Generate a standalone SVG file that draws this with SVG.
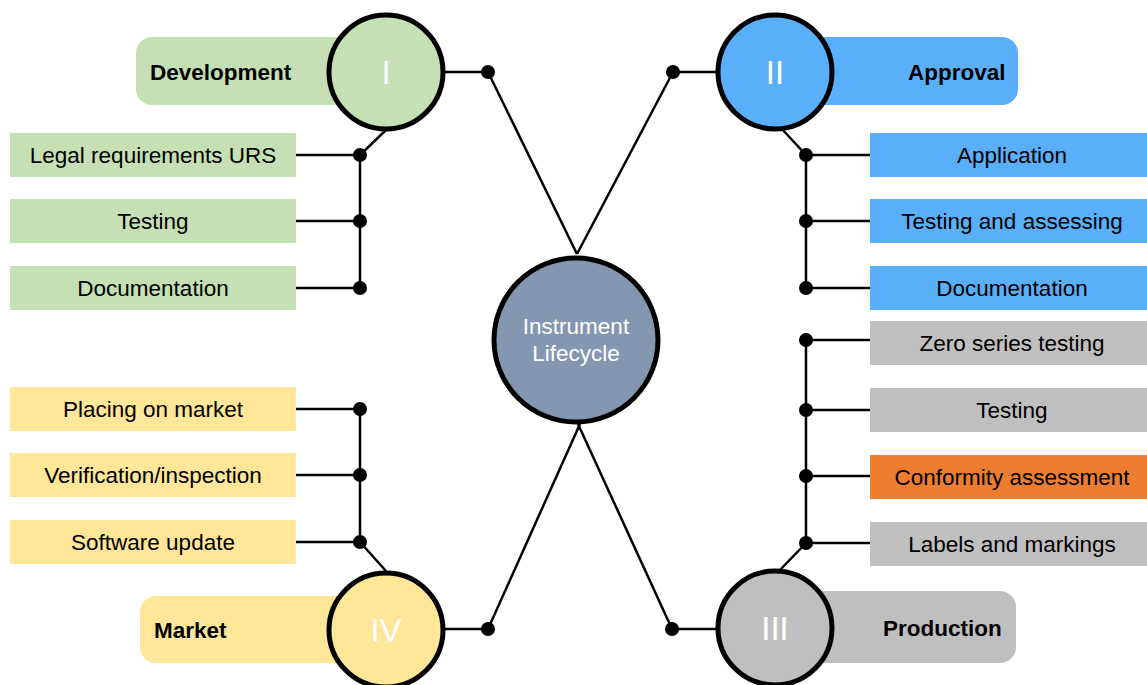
<svg xmlns="http://www.w3.org/2000/svg" width="1147" height="685" viewBox="0 0 1147 685">
  <defs>
    <style>
      .txt { font-family: "Liberation Sans", Arial, sans-serif; font-size: 22.5px; fill: #000; text-anchor: middle; dominant-baseline: central; }
      .bold { font-weight: bold; text-anchor: start; }
      .light { fill: #fff; }
      .num { font-family: "Liberation Sans", Arial, sans-serif; font-size: 33px; fill: #fff; text-anchor: middle; dominant-baseline: central; }
      .ring { stroke: #000; stroke-width: 5; }
      .wire { stroke: #000; stroke-width: 2.5; fill: none; }
      .dot { fill: #000; }
      .green { fill: #c5e0b4; }
      .blue { fill: #5aaffa; }
      .yellow { fill: #ffe699; }
      .grey { fill: #bfbfbf; }
      .orange { fill: #ed7d31; }
    </style>
  </defs>
  <rect width="1147" height="685" fill="#fff"/>

  <!-- connectors -->
  <g id="connectors">
    <!-- crossing lines to the hub -->
    <line class="wire" x1="444" y1="72" x2="488" y2="72"/>
    <line class="wire" x1="488" y1="72" x2="577" y2="254"/>
    <line class="wire" x1="717" y1="72" x2="673" y2="72"/>
    <line class="wire" x1="673" y1="72" x2="577" y2="254"/>
    <line class="wire" x1="444" y1="629" x2="488" y2="629"/>
    <line class="wire" x1="488" y1="629" x2="580" y2="424"/>
    <line class="wire" x1="717" y1="629" x2="672" y2="629"/>
    <line class="wire" x1="672" y1="629" x2="578" y2="424"/>
    <!-- development branches -->
    <polyline class="wire" points="386,130 360,155 360,288"/>
    <line class="wire" x1="296" y1="155" x2="360" y2="155"/>
    <line class="wire" x1="296" y1="221" x2="360" y2="221"/>
    <line class="wire" x1="296" y1="288" x2="360" y2="288"/>
    <!-- market branches -->
    <polyline class="wire" points="360,409 360,542 386,571"/>
    <line class="wire" x1="296" y1="409" x2="360" y2="409"/>
    <line class="wire" x1="296" y1="475" x2="360" y2="475"/>
    <line class="wire" x1="296" y1="542" x2="360" y2="542"/>
    <!-- approval branches -->
    <polyline class="wire" points="781,128 806,155 806,288"/>
    <line class="wire" x1="806" y1="155" x2="870" y2="155"/>
    <line class="wire" x1="806" y1="221" x2="870" y2="221"/>
    <line class="wire" x1="806" y1="288" x2="870" y2="288"/>
    <!-- production branches -->
    <polyline class="wire" points="806,340 806,543 779,571"/>
    <line class="wire" x1="806" y1="340" x2="870" y2="340"/>
    <line class="wire" x1="806" y1="410" x2="870" y2="410"/>
    <line class="wire" x1="806" y1="476" x2="870" y2="476"/>
    <line class="wire" x1="806" y1="543" x2="870" y2="543"/>
    <!-- junction dots -->
    <circle class="dot" cx="488" cy="72" r="7"/>
    <circle class="dot" cx="673" cy="72" r="7"/>
    <circle class="dot" cx="488" cy="629" r="7"/>
    <circle class="dot" cx="672" cy="629" r="7"/>
    <circle class="dot" cx="360" cy="155" r="7"/>
    <circle class="dot" cx="360" cy="221" r="7"/>
    <circle class="dot" cx="360" cy="288" r="7"/>
    <circle class="dot" cx="360" cy="409" r="7"/>
    <circle class="dot" cx="360" cy="475" r="7"/>
    <circle class="dot" cx="360" cy="542" r="7"/>
    <circle class="dot" cx="806" cy="155" r="7"/>
    <circle class="dot" cx="806" cy="221" r="7"/>
    <circle class="dot" cx="806" cy="288" r="7"/>
    <circle class="dot" cx="806" cy="340" r="7"/>
    <circle class="dot" cx="806" cy="410" r="7"/>
    <circle class="dot" cx="806" cy="476" r="7"/>
    <circle class="dot" cx="806" cy="543" r="7"/>
  </g>

  <!-- hub -->
  <g id="hub">
    <circle cx="576" cy="340" r="82" fill="#8497b0" class="ring"/>
    <text class="txt light" x="576" y="326">Instrument</text>
    <text class="txt light" x="576" y="353">Lifecycle</text>
  </g>

  <!-- phase I -->
  <g id="phase-development">
    <rect class="green" x="136" y="37" width="230" height="68" rx="16"/>
    <circle class="green ring" cx="386" cy="72" r="57"/>
    <text class="txt bold" x="150" y="72">Development</text>
    <text class="num" x="386" y="72">I</text>
  </g>
  <g id="dev-urs"><rect class="green" x="10" y="133" width="286" height="44"/><text class="txt" x="153" y="155">Legal requirements URS</text></g>
  <g id="dev-testing"><rect class="green" x="10" y="199" width="286" height="44"/><text class="txt" x="153" y="221">Testing</text></g>
  <g id="dev-doc"><rect class="green" x="10" y="266" width="286" height="44"/><text class="txt" x="153" y="288">Documentation</text></g>

  <!-- phase II -->
  <g id="phase-approval">
    <rect class="blue" x="790" y="37" width="228" height="68" rx="16"/>
    <circle class="blue ring" cx="775" cy="72" r="57"/>
    <text class="txt bold" x="908" y="72">Approval</text>
    <text class="num" x="775" y="72">II</text>
  </g>
  <g id="app-application"><rect class="blue" x="870" y="133" width="277" height="44"/><text class="txt" x="1012" y="155">Application</text></g>
  <g id="app-testing"><rect class="blue" x="870" y="199" width="277" height="44"/><text class="txt" x="1012" y="221">Testing and assessing</text></g>
  <g id="app-doc"><rect class="blue" x="870" y="266" width="277" height="44"/><text class="txt" x="1012" y="288">Documentation</text></g>

  <!-- phase III -->
  <g id="phase-production">
    <rect class="grey" x="790" y="591" width="226" height="72" rx="16"/>
    <circle class="grey ring" cx="775" cy="628" r="57"/>
    <text class="txt bold" x="883" y="628">Production</text>
    <text class="num" x="775" y="628">III</text>
  </g>
  <g id="prod-zero"><rect class="grey" x="870" y="321" width="277" height="44"/><text class="txt" x="1012" y="343">Zero series testing</text></g>
  <g id="prod-testing"><rect class="grey" x="870" y="388" width="277" height="44"/><text class="txt" x="1012" y="410">Testing</text></g>
  <g id="prod-conformity"><rect class="orange" x="870" y="455" width="277" height="44"/><text class="txt" x="1012" y="477">Conformity assessment</text></g>
  <g id="prod-labels"><rect class="grey" x="870" y="522" width="277" height="44"/><text class="txt" x="1012" y="544">Labels and markings</text></g>

  <!-- phase IV -->
  <g id="phase-market">
    <rect class="yellow" x="140" y="596" width="226" height="67" rx="16"/>
    <circle class="yellow ring" cx="386" cy="630" r="57"/>
    <text class="txt bold" x="154" y="630">Market</text>
    <text class="num" x="386" y="630">IV</text>
  </g>
  <g id="mkt-placing"><rect class="yellow" x="10" y="387" width="286" height="44"/><text class="txt" x="153" y="409">Placing on market</text></g>
  <g id="mkt-verification"><rect class="yellow" x="10" y="453" width="286" height="44"/><text class="txt" x="153" y="475">Verification/inspection</text></g>
  <g id="mkt-software"><rect class="yellow" x="10" y="520" width="286" height="44"/><text class="txt" x="153" y="542">Software update</text></g>
</svg>
